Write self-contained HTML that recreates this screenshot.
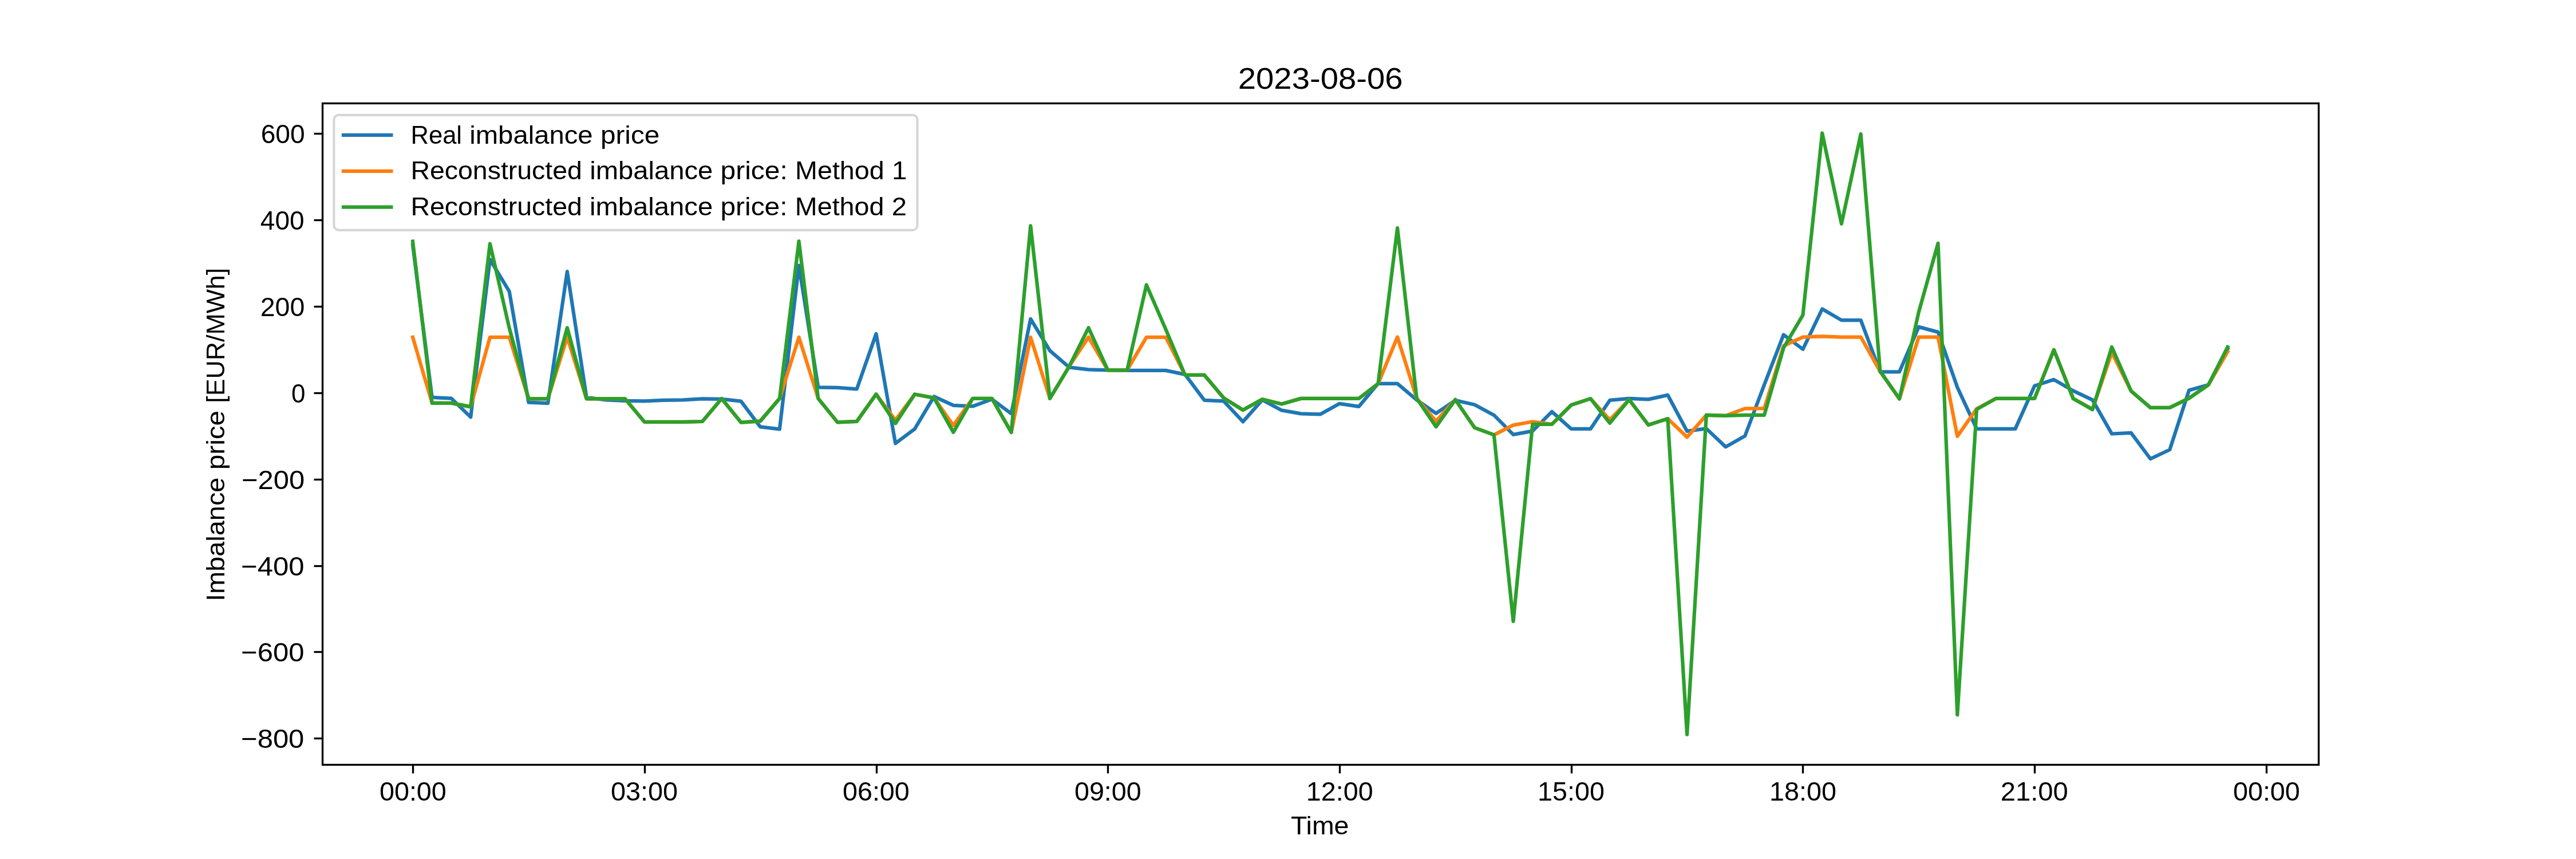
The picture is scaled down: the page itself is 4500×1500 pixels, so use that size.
<!DOCTYPE html>
<html lang="en"><head><meta charset="utf-8"><title>2023-08-06</title>
<style>
html,body{margin:0;padding:0;background:#ffffff;}
body{width:4500px;height:1500px;overflow:hidden;}
svg{display:block;will-change:transform;}
text{font-family:"Liberation Sans",sans-serif;fill:#000000;white-space:pre;}
</style></head><body>
<svg width="4500" height="1500" viewBox="0 0 4500 1500">
<rect x="0" y="0" width="4500" height="1500" fill="#ffffff"/>
<clipPath id="ax"><rect x="562.5" y="180.0" width="3487.5" height="1155.0"/></clipPath>
<g clip-path="url(#ax)">
<polyline points="721.02,427.87 754.75,693.99 788.48,695.65 822.21,728.38 855.94,453.14 889.66,508.88 923.39,702.66 957.12,704.09 990.85,474.11 1024.58,693.84 1058.31,698.36 1092.03,699.87 1125.76,700.40 1159.49,698.89 1193.22,698.36 1226.95,696.40 1260.67,696.85 1294.40,700.55 1328.13,745.43 1361.86,749.35 1395.59,463.55 1429.32,676.41 1463.04,676.86 1496.77,679.28 1530.50,582.88 1564.23,774.32 1597.96,748.90 1631.69,692.33 1665.41,707.94 1699.14,709.45 1732.87,697.16 1766.60,722.27 1800.33,556.85 1834.05,612.37 1867.78,641.34 1901.51,645.33 1935.24,646.39 1968.97,646.84 2002.70,646.84 2036.42,646.84 2070.15,653.86 2103.88,698.89 2137.61,700.40 2171.34,736.38 2205.07,698.36 2238.79,716.39 2272.52,722.35 2306.25,723.41 2339.98,704.85 2373.71,709.90 2407.43,669.85 2441.16,669.85 2474.89,698.36 2508.62,721.82 2542.35,699.04 2576.08,706.73 2609.80,724.91 2643.53,758.86 2677.26,752.60 2710.99,718.88 2744.72,748.90 2778.45,748.90 2812.17,698.89 2845.90,695.87 2879.63,697.38 2913.36,689.84 2947.09,752.97 2980.81,748.45 3014.54,780.36 3048.27,761.27 3082.00,671.89 3115.73,584.39 3149.46,609.88 3183.18,539.50 3216.91,559.12 3250.64,559.12 3284.37,649.33 3318.10,649.33 3351.83,570.88 3385.55,579.86 3419.28,676.34 3453.01,748.90 3486.74,748.90 3520.47,748.90 3554.19,673.77 3587.92,662.83 3621.65,682.37 3655.38,698.36 3689.11,757.50 3722.84,755.99 3756.56,801.25 3790.29,785.26 3824.02,681.47 3857.75,672.11 3891.48,609.28" fill="none" stroke="#1f77b4" stroke-width="6.25" stroke-linejoin="round" stroke-linecap="square"/>
<polyline points="721.02,588.91 754.75,703.94 788.48,703.94 822.21,710.36 855.94,588.84 889.66,588.84 923.39,696.40 957.12,696.40 990.85,588.84 1024.58,696.40 1058.31,696.40 1092.03,696.40 1125.76,736.76 1159.49,736.76 1193.22,736.76 1226.95,736.00 1260.67,696.02 1294.40,737.59 1328.13,735.40 1361.86,695.87 1395.59,588.84 1429.32,695.87 1463.04,737.36 1496.77,735.93 1530.50,688.33 1564.23,733.74 1597.96,688.48 1631.69,694.89 1665.41,742.94 1699.14,695.87 1732.87,695.87 1766.60,754.94 1800.33,588.84 1834.05,695.87 1867.78,639.83 1901.51,588.84 1935.24,646.39 1968.97,646.39 2002.70,588.84 2036.42,588.84 2070.15,654.91 2103.88,654.91 2137.61,694.89 2171.34,716.01 2205.07,697.16 2238.79,705.45 2272.52,695.87 2306.25,695.87 2339.98,695.87 2373.71,695.87 2407.43,670.00 2441.16,588.53 2474.89,695.65 2508.62,735.62 2542.35,697.91 2576.08,746.94 2609.80,759.39 2643.53,742.41 2677.26,736.23 2710.99,740.91 2744.72,707.19 2778.45,696.10 2812.17,733.14 2845.90,697.91 2879.63,742.04 2913.36,731.10 2947.09,763.38 2980.81,724.84 3014.54,725.82 3048.27,713.37 3082.00,713.37 3115.73,603.85 3149.46,588.53 3183.18,587.40 3216.91,588.53 3250.64,588.53 3284.37,648.35 3318.10,696.40 3351.83,588.53 3385.55,588.53 3419.28,761.88 3453.01,713.75 3486.74,695.87 3520.47,695.87 3554.19,695.87 3587.92,610.94 3621.65,696.02 3655.38,714.50 3689.11,615.69 3722.84,682.82 3756.56,711.86 3790.29,711.86 3824.02,695.42 3857.75,672.11 3891.48,614.18" fill="none" stroke="#ff7f0e" stroke-width="6.25" stroke-linejoin="round" stroke-linecap="square"/>
<polyline points="721.02,421.45 754.75,703.94 788.48,703.94 822.21,710.36 855.94,425.60 889.66,572.69 923.39,696.40 957.12,696.40 990.85,572.32 1024.58,696.40 1058.31,696.40 1092.03,696.40 1125.76,736.76 1159.49,736.76 1193.22,736.76 1226.95,736.00 1260.67,696.02 1294.40,737.59 1328.13,735.40 1361.86,695.87 1395.59,421.08 1429.32,695.87 1463.04,737.36 1496.77,735.93 1530.50,688.33 1564.23,739.40 1597.96,688.48 1631.69,694.89 1665.41,754.86 1699.14,695.87 1732.87,695.87 1766.60,754.94 1800.33,394.30 1834.05,695.87 1867.78,639.83 1901.51,572.32 1935.24,646.39 1968.97,646.39 2002.70,497.49 2036.42,574.96 2070.15,654.91 2103.88,654.91 2137.61,694.89 2171.34,716.01 2205.07,697.16 2238.79,705.45 2272.52,695.87 2306.25,695.87 2339.98,695.87 2373.71,695.87 2407.43,670.00 2441.16,398.07 2474.89,695.65 2508.62,745.13 2542.35,697.91 2576.08,746.94 2609.80,759.39 2643.53,1084.87 2677.26,740.91 2710.99,740.91 2744.72,707.19 2778.45,696.10 2812.17,738.87 2845.90,697.91 2879.63,742.04 2913.36,731.10 2947.09,1282.50 2980.81,724.84 3014.54,725.82 3048.27,724.84 3082.00,724.84 3115.73,607.39 3149.46,550.06 3183.18,232.50 3216.91,390.91 3250.64,234.01 3284.37,648.35 3318.10,696.40 3351.83,544.78 3385.55,424.85 3419.28,1248.18 3453.01,714.88 3486.74,695.87 3520.47,695.87 3554.19,695.87 3587.92,610.94 3621.65,696.02 3655.38,715.26 3689.11,605.88 3722.84,682.82 3756.56,711.86 3790.29,711.86 3824.02,695.42 3857.75,672.11 3891.48,605.88" fill="none" stroke="#2ca02c" stroke-width="6.25" stroke-linejoin="round" stroke-linecap="square"/>
</g>
<g stroke="#000000" stroke-width="3.333" fill="none">
<line x1="721.5" y1="1335.5" x2="721.5" y2="1350.5"/>
<line x1="1126.5" y1="1335.5" x2="1126.5" y2="1350.5"/>
<line x1="1531.5" y1="1335.5" x2="1531.5" y2="1350.5"/>
<line x1="1935.5" y1="1335.5" x2="1935.5" y2="1350.5"/>
<line x1="2340.5" y1="1335.5" x2="2340.5" y2="1350.5"/>
<line x1="2745.5" y1="1335.5" x2="2745.5" y2="1350.5"/>
<line x1="3149.5" y1="1335.5" x2="3149.5" y2="1350.5"/>
<line x1="3554.5" y1="1335.5" x2="3554.5" y2="1350.5"/>
<line x1="3959.5" y1="1335.5" x2="3959.5" y2="1350.5"/>
<line x1="548.5" y1="1289.5" x2="563.5" y2="1289.5"/>
<line x1="548.5" y1="1138.5" x2="563.5" y2="1138.5"/>
<line x1="548.5" y1="988.5" x2="563.5" y2="988.5"/>
<line x1="548.5" y1="837.5" x2="563.5" y2="837.5"/>
<line x1="548.5" y1="686.5" x2="563.5" y2="686.5"/>
<line x1="548.5" y1="535.5" x2="563.5" y2="535.5"/>
<line x1="548.5" y1="384.5" x2="563.5" y2="384.5"/>
<line x1="548.5" y1="233.5" x2="563.5" y2="233.5"/>
<rect x="563.5" y="180.5" width="3487.0" height="1155.0" stroke-linejoin="miter"/>
</g>
<rect x="583.33" y="200.83" width="1019.2" height="201" rx="8.33" ry="8.33" fill="#ffffff" fill-opacity="0.8" stroke="#cccccc" stroke-opacity="0.8" stroke-width="4.167"/>
<line x1="600" y1="235.92" x2="683.33" y2="235.92" stroke="#1f77b4" stroke-width="6.25" stroke-linecap="square"/>
<line x1="600" y1="298.75" x2="683.33" y2="298.75" stroke="#ff7f0e" stroke-width="6.25" stroke-linecap="square"/>
<line x1="600" y1="361.58" x2="683.33" y2="361.58" stroke="#2ca02c" stroke-width="6.25" stroke-linecap="square"/>
<text x="2162.73" y="155.09" font-size="51.23" textLength="287.94" lengthAdjust="spacingAndGlyphs">2023-08-06</text>
<text x="2254.93" y="1456.89" font-size="45.29" textLength="101.56" lengthAdjust="spacingAndGlyphs">Time</text>
<text transform="translate(392.01,1050.01) rotate(-90)" font-size="45.16"><tspan x="0.00" y="0.00" textLength="216.47" lengthAdjust="spacingAndGlyphs">Imbalance</tspan><tspan> </tspan><tspan x="229.72" y="0.00" textLength="103.43" lengthAdjust="spacingAndGlyphs">price</tspan><tspan> </tspan><tspan x="346.38" y="0.00" textLength="235.71" lengthAdjust="spacingAndGlyphs">[EUR/MWh]</tspan></text>
<text x="662.91" y="1397.92" font-size="46.62" textLength="116.95" lengthAdjust="spacingAndGlyphs">00:00</text>
<text x="1066.91" y="1397.92" font-size="46.66" textLength="117.20" lengthAdjust="spacingAndGlyphs">03:00</text>
<text x="1471.91" y="1397.92" font-size="46.62" textLength="116.95" lengthAdjust="spacingAndGlyphs">06:00</text>
<text x="1876.93" y="1397.94" font-size="46.69" textLength="116.82" lengthAdjust="spacingAndGlyphs">09:00</text>
<text x="2281.87" y="1397.92" font-size="46.66" textLength="116.88" lengthAdjust="spacingAndGlyphs">12:00</text>
<text x="2686.07" y="1397.92" font-size="46.62" textLength="116.79" lengthAdjust="spacingAndGlyphs">15:00</text>
<text x="3091.02" y="1397.92" font-size="46.66" textLength="117.04" lengthAdjust="spacingAndGlyphs">18:00</text>
<text x="3494.66" y="1397.92" font-size="46.66" textLength="118.08" lengthAdjust="spacingAndGlyphs">21:00</text>
<text x="3900.91" y="1397.92" font-size="46.62" textLength="116.95" lengthAdjust="spacingAndGlyphs">00:00</text>
<text x="421.05" y="1305.92" font-size="46.62" textLength="110.32" lengthAdjust="spacingAndGlyphs">−800</text>
<text x="421.05" y="1154.92" font-size="46.66" textLength="110.39" lengthAdjust="spacingAndGlyphs">−600</text>
<text x="421.05" y="1004.92" font-size="46.66" textLength="110.39" lengthAdjust="spacingAndGlyphs">−400</text>
<text x="422.05" y="853.94" font-size="46.69" textLength="110.21" lengthAdjust="spacingAndGlyphs">−200</text>
<text x="509.11" y="702.92" font-size="46.62" textLength="24.41" lengthAdjust="spacingAndGlyphs">0</text>
<text x="454.73" y="551.92" font-size="46.66" textLength="77.56" lengthAdjust="spacingAndGlyphs">200</text>
<text x="454.84" y="400.92" font-size="46.62" textLength="76.75" lengthAdjust="spacingAndGlyphs">400</text>
<text x="455.64" y="249.92" font-size="46.66" textLength="76.94" lengthAdjust="spacingAndGlyphs">600</text>
<text font-size="43.71"><tspan x="717.45" y="251.00" textLength="89.61" lengthAdjust="spacingAndGlyphs">Real</tspan><tspan> </tspan><tspan x="820.28" y="251.00" textLength="215.40" lengthAdjust="spacingAndGlyphs">imbalance</tspan><tspan> </tspan><tspan x="1048.91" y="251.00" textLength="103.33" lengthAdjust="spacingAndGlyphs">price</tspan></text>
<text font-size="43.71"><tspan x="717.40" y="312.50" textLength="299.52" lengthAdjust="spacingAndGlyphs">Reconstructed</tspan><tspan> </tspan><tspan x="1030.15" y="312.50" textLength="215.23" lengthAdjust="spacingAndGlyphs">imbalance</tspan><tspan> </tspan><tspan x="1258.59" y="312.50" textLength="117.22" lengthAdjust="spacingAndGlyphs">price:</tspan><tspan> </tspan><tspan x="1389.03" y="312.50" textLength="155.75" lengthAdjust="spacingAndGlyphs">Method</tspan><tspan> </tspan><tspan x="1557.99" y="312.50" textLength="26.44" lengthAdjust="spacingAndGlyphs">1</tspan></text>
<text font-size="43.71"><tspan x="717.43" y="375.50" textLength="299.41" lengthAdjust="spacingAndGlyphs">Reconstructed</tspan><tspan> </tspan><tspan x="1030.06" y="375.50" textLength="215.15" lengthAdjust="spacingAndGlyphs">imbalance</tspan><tspan> </tspan><tspan x="1258.42" y="375.50" textLength="117.17" lengthAdjust="spacingAndGlyphs">price:</tspan><tspan> </tspan><tspan x="1388.81" y="375.50" textLength="155.69" lengthAdjust="spacingAndGlyphs">Method</tspan><tspan> </tspan><tspan x="1557.71" y="375.50" textLength="26.30" lengthAdjust="spacingAndGlyphs">2</tspan></text>
</svg></body></html>
